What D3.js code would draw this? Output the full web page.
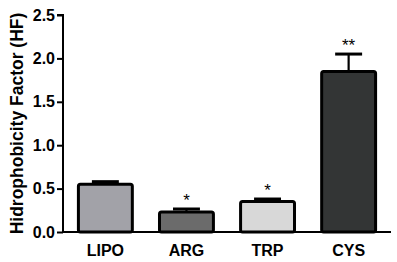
<!DOCTYPE html>
<html>
<head>
<meta charset="utf-8">
<script src="https://cdn.jsdelivr.net/npm/d3@7"></script>
<style>
html,body{margin:0;padding:0;background:#fff;}
svg{display:block;}
text{font-family:"Liberation Sans",Arial,sans-serif;}
</style>
</head>
<body>
<svg id="c" width="397" height="262"></svg>
<script>
const categories = ["LIPO", "ARG", "TRP", "CYS"];
const values = [0.55, 0.23, 0.35, 1.85];
const errors = [0.03, 0.035, 0.03, 0.2];
const significance = ["", "*", "*", "**"];
const fills = ["#a2a2a8", "#6b6b6b", "#d8d8d8", "#333535"];
const yTicks = [0, 0.5, 1.0, 1.5, 2.0, 2.5];
const yTitle = "Hidrophobicity Factor (HF)";

const svg = d3.select("#c");
const m = {left: 63, right: 6, top: 15, bottom: 30};
const W = 397, H = 262;

const x = d3.scaleBand().domain(categories).range([m.left, W - m.right])
  .paddingInner(0.335).paddingOuter(0.19);
const y = d3.scaleLinear().domain([0, 2.5]).range([H - m.bottom, m.top]);

const data = categories.map((c, i) => ({c, v: values[i], e: errors[i], s: significance[i], f: fills[i]}));

// bars
svg.append("g").selectAll("rect").data(data).join("rect")
  .attr("x", d => x(d.c))
  .attr("y", d => y(d.v))
  .attr("width", x.bandwidth())
  .attr("height", d => y(0) - y(d.v))
  .attr("rx", 2)
  .attr("fill", d => d.f)
  .attr("stroke", "#000")
  .attr("stroke-width", 3);

// error bars
const eg = svg.append("g");
eg.selectAll("line.stem").data(data).join("line")
  .attr("class", "stem")
  .attr("x1", d => x(d.c) + x.bandwidth() / 2)
  .attr("x2", d => x(d.c) + x.bandwidth() / 2)
  .attr("y1", d => y(d.v))
  .attr("y2", d => y(d.v + d.e))
  .attr("stroke", "#000").attr("stroke-width", 2.2);
eg.selectAll("line.cap").data(data).join("line")
  .attr("class", "cap")
  .attr("x1", d => x(d.c) + x.bandwidth() / 4)
  .attr("x2", d => x(d.c) + x.bandwidth() * 3 / 4)
  .attr("y1", d => y(d.v + d.e))
  .attr("y2", d => y(d.v + d.e))
  .attr("stroke", "#000").attr("stroke-width", 3);

// significance
svg.append("g").selectAll("text").data(data).join("text")
  .attr("x", d => x(d.c) + x.bandwidth() / 2)
  .attr("y", d => y(d.v + d.e) - 3)
  .attr("text-anchor", "middle")
  .attr("font-size", 17)
  .text(d => d.s);

// y axis
const ya = svg.append("g").attr("transform", `translate(${m.left},0)`)
  .call(d3.axisLeft(y).tickValues(yTicks).tickFormat(d3.format(".1f")).tickSize(6).tickPadding(2));
ya.select(".domain").attr("stroke-width", 2).attr("d", `M-6,${y(2.5)}H0V${y(0)}`);
ya.selectAll(".tick line").attr("stroke-width", 2);
ya.selectAll(".tick text").attr("font-size", 16).attr("font-weight", "bold").attr("fill", "#000")
  .style("font-family", '"Liberation Sans",Arial,sans-serif');

// x axis
const xa = svg.append("g").attr("transform", `translate(0,${y(0)})`)
  .call(d3.axisBottom(x).tickSize(0).tickPadding(13));
xa.select(".domain").attr("stroke-width", 2).attr("d", `M${m.left},0H${W - m.right}`);
xa.selectAll(".tick text").attr("font-size", 16).attr("font-weight", "bold").attr("fill", "#000")
  .style("font-family", '"Liberation Sans",Arial,sans-serif');

// y title
svg.append("text")
  .attr("transform", `translate(23,${(y(0) + y(2.5)) / 2}) rotate(-90)`)
  .attr("text-anchor", "middle")
  .attr("font-size", 17.5)
  .attr("font-weight", "bold")
  .text(yTitle);
</script>
</body>
</html>
